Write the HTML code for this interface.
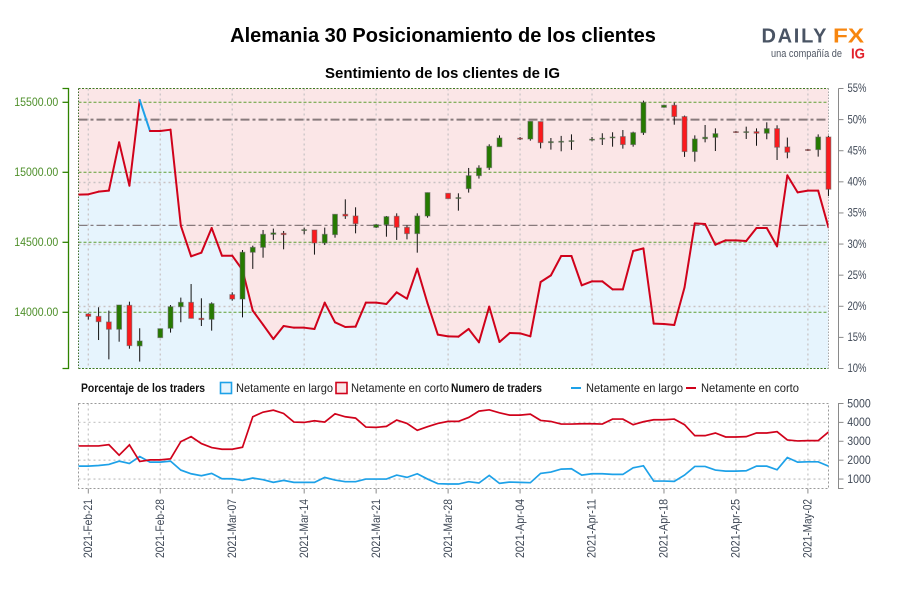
<!DOCTYPE html>
<html lang="es">
<head>
<meta charset="utf-8">
<title>Alemania 30 Posicionamiento de los clientes</title>
<style>
html,body{margin:0;padding:0;background:#fff;}
#chart{display:block;width:900px;height:600px;font-family:"Liberation Sans",sans-serif;}
</style>
</head>
<body>
<svg id="chart" xmlns="http://www.w3.org/2000/svg" width="900" height="600" viewBox="0 0 900 600">
  <defs>
    <clipPath id="top-clip"><rect x="78.5" y="88.5" width="750" height="280"/></clipPath>
    <clipPath id="bottom-clip"><rect x="78.5" y="403.5" width="750" height="85"/></clipPath>
  </defs>
  <rect x="0" y="0" width="900" height="600" fill="#fff"/>
  <text x="443" y="42" text-anchor="middle" font-size="20" font-weight="700" fill="#000">Alemania 30 Posicionamiento de los clientes</text>
  <text x="442.5" y="78" text-anchor="middle" font-size="15" font-weight="700" fill="#000" textLength="235" lengthAdjust="spacingAndGlyphs">Sentimiento de los clientes de IG</text>

  <g>
    <text x="761.5" y="42.7" font-size="20" font-weight="700" fill="#4a5464" textLength="65" lengthAdjust="spacing">DAILY</text>
    <text x="833" y="42.7" font-size="20" font-weight="700" fill="#f7860f" textLength="31" lengthAdjust="spacingAndGlyphs">FX</text>
    <text x="771" y="57" font-size="11" fill="#4f5663" textLength="71" lengthAdjust="spacingAndGlyphs">una compañía de</text>
    <text x="851" y="58.5" font-size="15" font-weight="700" fill="#e2212b" textLength="14" lengthAdjust="spacingAndGlyphs">IG</text>
  </g>

  <g id="top-panel"></g>
  <g id="bottom-panel"></g>

  <g>
    <text x="81" y="392" font-size="12" font-weight="700" fill="#111" textLength="124" lengthAdjust="spacingAndGlyphs">Porcentaje de los traders</text>
    <rect x="220.5" y="382.5" width="11" height="11" fill="#e6f4fd" stroke="#1da1e8" stroke-width="1.6"/>
    <text x="236" y="392" font-size="12" fill="#222" textLength="97" lengthAdjust="spacingAndGlyphs">Netamente en largo</text>
    <rect x="336" y="382.5" width="11" height="11" fill="#fbe6e7" stroke="#d0021b" stroke-width="1.6"/>
    <text x="351" y="392" font-size="12" fill="#222" textLength="98" lengthAdjust="spacingAndGlyphs">Netamente en corto</text>
    <text x="451" y="392" font-size="12" font-weight="700" fill="#111" textLength="91" lengthAdjust="spacingAndGlyphs">Numero de traders</text>
    <line x1="571" y1="388" x2="581" y2="388" stroke="#1da1e8" stroke-width="2"/>
    <text x="586" y="392" font-size="12" fill="#222" textLength="97" lengthAdjust="spacingAndGlyphs">Netamente en largo</text>
    <line x1="686" y1="388" x2="696" y2="388" stroke="#d0021b" stroke-width="2"/>
    <text x="701" y="392" font-size="12" fill="#222" textLength="98" lengthAdjust="spacingAndGlyphs">Netamente en corto</text>
  </g>
</svg>

<script>
// ---- data ----
const dateLabels = ["2021-Feb-21","2021-Feb-28","2021-Mar-07","2021-Mar-14","2021-Mar-21","2021-Mar-28","2021-Apr-04","2021-Apr-11","2021-Apr-18","2021-Apr-25","2021-May-02"];
const priceTicks = [14000,14500,15000,15500];
const percentTicks = [10,15,20,25,30,35,40,45,50,55];
const countTicks = [1000,2000,3000,4000,5000];

const candleOpen = [
13988,13971,13931,13879,14050,13760,null,13819,13886,14040,
14071,13957,13950,null,14126,14095,14429,14464,14557,14564,
null,14586,14588,14495,14555,14700,14688,null,14607,14626,
14686,14607,14562,14688,null,14850,14814,14883,14976,15033,
15183,null,15243,15238,15362,15212,15219,15221,null,15231,
15238,15248,15255,15198,15283,null,15464,15479,15398,15148,
15240,15250,null,15290,15286,15290,15279,15312,15181,null,
15162,15162,15252];
const candleClose = [
13971,13933,13879,14052,13762,13795,null,13883,14040,14071,
13957,13948,14062,null,14095,14429,14464,14557,14567,14555,
null,14590,14495,14557,14700,14688,14633,null,14626,14683,
14607,14562,14688,14855,null,14812,14819,14976,15031,15186,
15245,null,15240,15364,15212,15219,15221,15226,null,15236,
15243,15252,15198,15283,15498,null,15479,15398,15148,15238,
15250,15276,null,15286,15290,15279,15312,15179,15143,null,
15157,15252,14879];
const candleHigh = [
13993,14036,14012,14052,14076,13886,null,13883,14052,14105,
14202,14100,14071,null,14143,14445,14476,14588,14598,14581,
null,14605,14588,14605,14700,14807,14750,null,14631,14688,
14707,14621,14707,14855,null,14850,14850,15031,15050,15200,
15264,null,15252,15364,15362,15245,15260,15271,null,15252,
15279,15286,15302,15290,15512,null,15481,15498,15405,15264,
15338,15314,null,15295,15326,15314,15357,15336,15248,null,
15167,15271,15262];
const candleLow = [
13948,13802,13664,13790,13740,13648,null,13819,13855,13929,
13957,13902,13869,null,14083,13964,14310,14390,14517,14450,
null,14557,14412,14481,14533,14667,14564,null,14602,14540,
14517,14521,14426,14676,null,14812,14726,14855,14955,15017,
15183,null,15231,15226,15171,15162,15150,15160,null,15221,
15195,15183,15169,15183,15267,null,15462,15340,15110,15076,
15214,15152,null,15281,15238,15190,15236,15088,15100,null,
15152,15112,14831];

const percentLong = [
37.94,37.99,38.42,38.58,46.35,39.38,53.15,48.17,48.17,48.38,
32.95,28.03,28.62,32.58,28.13,28.13,25.83,19.29,17.04,14.74,
16.83,16.56,16.56,16.35,20.58,17.42,16.67,16.72,20.58,20.58,
20.37,22.24,21.22,26.04,20.47,15.44,15.17,15.12,16.35,14.21,
19.94,14.26,15.71,15.65,15.17,23.90,24.97,28.08,28.08,23.37,
24.01,24.01,22.72,22.72,28.88,29.31,17.21,17.15,16.99,23.04,
33.33,33.22,29.90,30.60,30.60,30.49,32.58,32.58,29.63,41.04,
38.31,38.58,38.58,32.69];

const tradersShort = [
2754,2754,2754,2824,2263,2807,1930,2017,2017,2070,
2982,3245,2877,2666,2579,2579,2684,4298,4543,4648,
4473,4017,3999,4087,4017,4455,4298,4227,3754,3736,
3789,4122,3947,3578,3771,3947,4052,4052,4262,4596,
4666,4508,4385,4385,4438,4105,4052,3912,3912,3929,
3929,3912,4175,4175,3877,4034,4140,4140,4175,3877,
3298,3298,3438,3228,3228,3245,3438,3438,3508,3070,
3017,3035,3035,3491];
const tradersLong = [
1684,1684,1719,1772,1947,1824,2193,1895,1895,1947,
1474,1281,1175,1298,1018,1018,930,1053,965,825,
930,825,825,825,1088,947,860,860,1000,1000,
1000,1210,1088,1281,1000,754,737,737,860,790,
1193,772,842,825,807,1298,1368,1526,1544,1210,
1281,1281,1246,1246,1596,1702,895,895,877,1210,
1667,1667,1474,1421,1421,1439,1684,1684,1491,2140,
1895,1912,1912,1684];

const percentReferenceLevels = [50,33];

// ---- axis functions ----
function xAt(dayIndex){ return 88.3 + 10.28 * dayIndex; }
function priceY(v){ return 312.3 - (v - 14000) * 0.14; }
function percentY(v){ return 368.5 - (v - 10) * (280 / 45); }
function countY(v){ return 488.5 - (v - 500) * (85 / 4500); }
function seriesX(k){ return xAt(k - 1); }

const NS = "http://www.w3.org/2000/svg";
function mk(parent, tag, attrs, text){
  const el = document.createElementNS(NS, tag);
  for (const k in attrs) el.setAttribute(k, attrs[k]);
  if (text !== undefined) el.textContent = text;
  parent.appendChild(el);
  return el;
}
function pts(values, yFn){
  return values.map(function(v, k){ return seriesX(k).toFixed(2) + "," + yFn(v).toFixed(2); }).join(" ");
}

const topPanel = document.getElementById("top-panel");
const bottomPanel = document.getElementById("bottom-panel");
const L = 78.5, R = 828.5, T = 88.5, B = 368.5, T2 = 403.5, B2 = 488.5;
let el;

// ---- top panel backgrounds ----
el = mk(topPanel, "rect", {x:L, y:T, width:R-L, height:B-T, fill:"#fbe6e7"});



el = mk(topPanel, "polygon", {
  points: seriesX(0).toFixed(2) + "," + B + " " + pts(percentLong, percentY) + " " + seriesX(percentLong.length-1).toFixed(2) + "," + B,
  fill:"#e6f4fd", "clip-path":"url(#top-clip)"
});



// ---- top grid ----
percentTicks.forEach(function(p){
  if (p === 10 || p === 55 || p % 10 !== 0 || p === 50) return;
  const y = Math.round(percentY(p)) + 0.5;
  const g = mk(topPanel, "line", {x1:L, x2:R, y1:y, y2:y, stroke:"#c9c2c3", "stroke-width":1.4, "stroke-dasharray":"2,3"});
  
  
});
dateLabels.forEach(function(d, k){
  const x = xAt(k * 7);
  const g = mk(topPanel, "line", {x1:x, x2:x, y1:T, y2:B, stroke:"#c9c4c6", "stroke-width":1.3, "stroke-dasharray":"2,3"});
  
  
});
priceTicks.forEach(function(p){
  const y = priceY(p);
  const g = mk(topPanel, "line", {x1:L, x2:R, y1:y, y2:y, stroke:"#5f9f33", "stroke-width":1, "stroke-dasharray":"3,2"});
  
  
});
percentReferenceLevels.forEach(function(p, k){
  const y = percentY(p);
  const g = mk(topPanel, "line", {x1:L, x2:R, y1:y, y2:y, stroke:"#6b5f62", "stroke-width": k === 0 ? 2 : 1.3, "stroke-opacity":0.8, "stroke-dasharray":"9,3,3,3"});
  
  
});

// ---- borders ----
el = mk(topPanel, "line", {x1:L, x2:R, y1:T, y2:T, stroke:"#3f7a22", "stroke-width":1, "stroke-dasharray":"2,1.5"});


el = mk(topPanel, "line", {x1:L, x2:R, y1:B, y2:B, stroke:"#3f7a22", "stroke-width":1, "stroke-dasharray":"2,1.5"});


el = mk(topPanel, "line", {x1:L, x2:L, y1:T, y2:B, stroke:"#3f6a2a", "stroke-width":1, "stroke-dasharray":"1.5,1.5"});


el = mk(topPanel, "line", {x1:R, x2:R, y1:T, y2:B, stroke:"#a9a9a9", "stroke-width":1, "stroke-dasharray":"1.5,1.5"});



// ---- percent line, segment colour follows the starting value ----
for (let k = 0; k < percentLong.length - 1; k++) {
  const seg = mk(topPanel, "line", {
    x1:seriesX(k), y1:percentY(percentLong[k]), x2:seriesX(k+1), y2:percentY(percentLong[k+1]),
    stroke: percentLong[k] > 50 ? "#1da1e8" : "#d0021b", "stroke-width":2, "stroke-linecap":"round", "clip-path":"url(#top-clip)"
  });
  
  
}

// ---- candles ----
candleOpen.forEach(function(o, i){
  if (o === null) return;
  const c = candleClose[i], h = candleHigh[i], l = candleLow[i];
  const x = xAt(i);
  const group = mk(topPanel, "g", {});
  
  
  const wick = mk(group, "line", {x1:x, x2:x, y1:priceY(h), y2:priceY(l), stroke:"#111", "stroke-width":1});
  
  
  const top = priceY(Math.max(o, c));
  const height = Math.max(0.8, Math.abs(priceY(o) - priceY(c)));
  const body = mk(group, "rect", {x:x-2.4, y:top, width:4.8, height:height, fill: c >= o ? "#267a00" : "#fb1a1d", stroke:"#5d5d5d", "stroke-opacity":0.55, "stroke-width":1});
  
  
});

// ---- left price axis ----
el = mk(topPanel, "polyline", {points:"62.5,88.5 68.5,88.5 68.5,368.5 62.5,368.5", fill:"none", stroke:"#2f8400", "stroke-width":1.3});


priceTicks.forEach(function(p){
  const y = priceY(p);
  const t = mk(topPanel, "line", {x1:62.5, x2:68.5, y1:y, y2:y, stroke:"#2f8400", "stroke-width":1.3});
  
  
  const lab = mk(topPanel, "text", {x:14.3, y:y+3.7, "font-size":12, fill:"#4e8f2a", textLength:44, lengthAdjust:"spacingAndGlyphs"}, p.toFixed(2));
  
  
});

// ---- right percent axis ----
el = mk(topPanel, "line", {x1:838.5, x2:838.5, y1:T, y2:B, stroke:"#8a8a8a", "stroke-width":1});


percentTicks.forEach(function(p){
  const y = percentY(p);
  const t = mk(topPanel, "line", {x1:838.5, x2:843.5, y1:y, y2:y, stroke:"#8a8a8a", "stroke-width":1});
  
  
  const lab = mk(topPanel, "text", {x:847.5, y:y+3.7, "font-size":12, fill:"#3f4856", textLength:19, lengthAdjust:"spacingAndGlyphs"}, p + "%");
  
  
});

// ---- bottom panel grid ----
countTicks.forEach(function(v){
  if (v === 5000) return;
  const y = countY(v);
  const g = mk(bottomPanel, "line", {x1:L, x2:R, y1:y, y2:y, stroke:"#c9c9c9", "stroke-width":1.3, "stroke-dasharray":"2,3"});
  
  
});
dateLabels.forEach(function(d, k){
  const x = xAt(k * 7);
  const g = mk(bottomPanel, "line", {x1:x, x2:x, y1:T2, y2:B2, stroke:"#c9c9c9", "stroke-width":1.3, "stroke-dasharray":"2,3"});
  
  
  const t = mk(bottomPanel, "line", {x1:x, x2:x, y1:B2, y2:B2+5, stroke:"#8a8a8a", "stroke-width":1});
  
  
  const lab = mk(bottomPanel, "text", {transform:"translate(" + (x+3.7) + ",499) rotate(-90)", "text-anchor":"end", "font-size":12, fill:"#3f4856", textLength:59, lengthAdjust:"spacingAndGlyphs"}, d);
  
  
});
el = mk(bottomPanel, "rect", {x:L, y:T2, width:R-L, height:B2-T2, fill:"none", stroke:"#999", "stroke-width":1, "stroke-dasharray":"2,2"});



// ---- bottom panel series ----
el = mk(bottomPanel, "polyline", {points:pts(tradersLong, countY), fill:"none", stroke:"#1da1e8", "stroke-width":1.7, "clip-path":"url(#bottom-clip)"});


el = mk(bottomPanel, "polyline", {points:pts(tradersShort, countY), fill:"none", stroke:"#d0021b", "stroke-width":1.7, "clip-path":"url(#bottom-clip)"});



// ---- right count axis ----
el = mk(bottomPanel, "polyline", {points:"843.5,403.5 838.5,403.5 838.5,488.5 843.5,488.5", fill:"none", stroke:"#8a8a8a", "stroke-width":1});


countTicks.forEach(function(v){
  const y = countY(v);
  const t = mk(bottomPanel, "line", {x1:838.5, x2:843.5, y1:y, y2:y, stroke:"#8a8a8a", "stroke-width":1});
  
  
  const lab = mk(bottomPanel, "text", {x:847.3, y:y+3.8, "font-size":12, fill:"#3f4856", textLength:23.4, lengthAdjust:"spacingAndGlyphs"}, String(v));
  
  
});
</script>
</body>
</html>
